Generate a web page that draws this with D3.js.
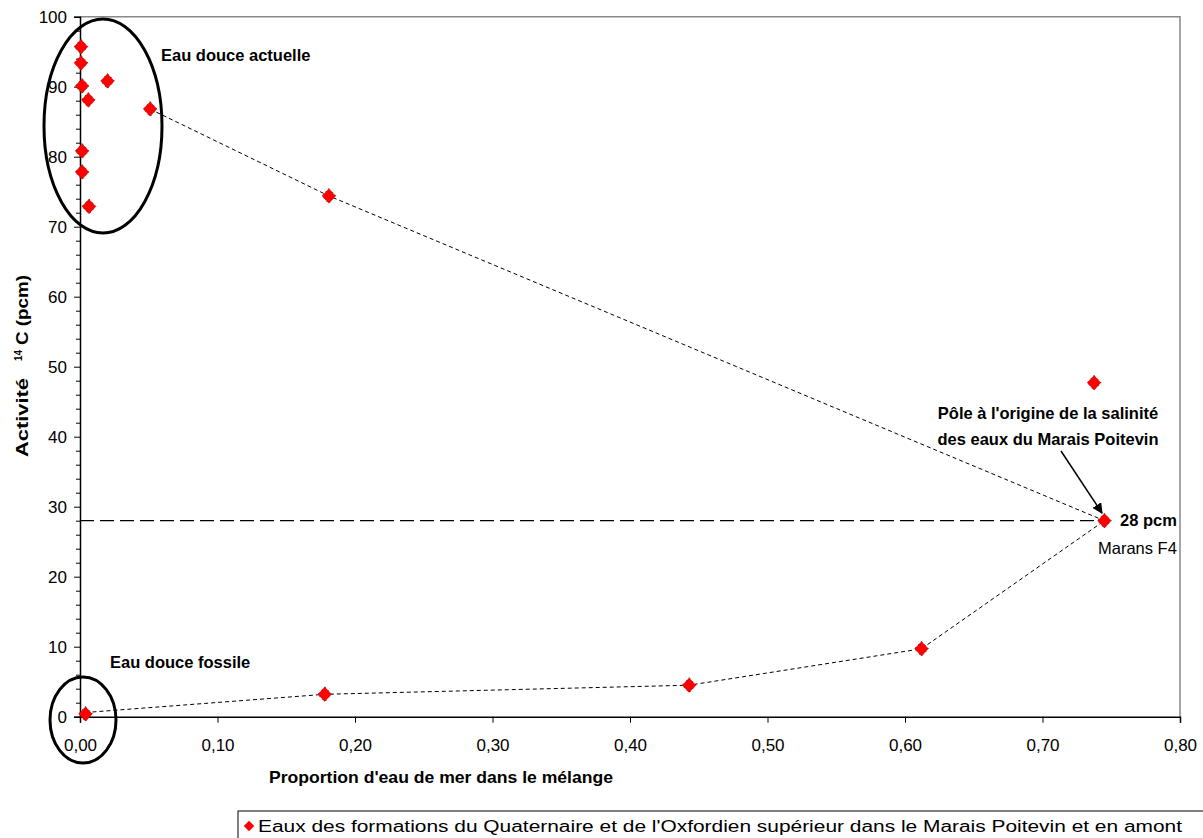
<!DOCTYPE html>
<html><head><meta charset="utf-8">
<script src="https://cdn.jsdelivr.net/npm/d3@7/dist/d3.min.js"></script>
<style>body{margin:0;background:#fff}svg{display:block;font-family:"Liberation Sans",Arial,sans-serif}</style>
</head><body><svg id="c" width="1203" height="838"></svg>
<script>
const xVals = [0.0007,0.0007,0.0015,0.006,0.020,0.051,0.0015,0.0015,0.0065,0.181,0.745,0.7375,0.612,0.443,0.178,0.004];
const yVals = [95.7,93.4,90.1,88.1,90.8,86.8,80.8,77.8,72.9,74.4,28.0,47.7,9.7,4.5,3.2,0.4];
const upperMixX = [0.051,0.181,0.745];
const upperMixY = [86.8,74.4,28.0];
const lowerMixX = [0.004,0.178,0.443,0.612,0.745];
const lowerMixY = [0.6,3.2,4.5,9.7,28.0];
const xTicks = [0,0.1,0.2,0.3,0.4,0.5,0.6,0.7,0.8];
const yTicks = [0,10,20,30,40,50,60,70,80,90,100];
const poleValue = 28;

const FF = "Liberation Sans, Arial, sans-serif";
const svg = d3.select("#c");
const x = d3.scaleLinear().domain([0,0.8]).range([80,1180]);
const y = d3.scaleLinear().domain([0,100]).range([716.7,16.7]);

// plot border (gray top/right)
svg.append("path").attr("d",`M${x(0)},${y(100)}H${x(0.8)}V${y(0)}`).attr("fill","none").attr("stroke","#888").attr("stroke-width",1.5);

// axes
const fmt = d => d3.format(".2f")(d).replace(".",",");
const xAxis = svg.append("g").attr("transform",`translate(0,${y(0)})`)
  .call(d3.axisBottom(x).tickValues(xTicks).tickFormat(fmt).tickSize(6).tickPadding(16));
const yAxis = svg.append("g").attr("transform",`translate(${x(0)},0)`)
  .call(d3.axisLeft(y).tickValues(yTicks).tickSize(6).tickPadding(7));
svg.append("g").attr("transform",`translate(${x(0)},0)`)
  .call(d3.axisLeft(y).tickValues(d3.range(0,101,2).filter(v=>v%10)).tickSize(4).tickFormat(""))
  .call(g=>g.select(".domain").remove());
[xAxis,yAxis].forEach(g=>{
  g.selectAll("text").attr("font-size",17).attr("fill","#000").attr("font-family",FF);
  g.select(".domain").attr("stroke","#000").attr("stroke-width",1.5);
});
svg.selectAll(".tick line").attr("stroke","#000");

// pole horizontal line
svg.append("line").attr("x1",x(0)).attr("x2",x(0.742)).attr("y1",y(poleValue)).attr("y2",y(poleValue))
  .attr("stroke","#000").attr("stroke-width",1.3).attr("stroke-dasharray","14,6");

// mixing lines
const line = d3.line().x(d=>x(d[0])).y(d=>y(d[1]));
svg.append("path").attr("d",line(upperMixX.map((v,i)=>[v,upperMixY[i]]))).attr("fill","none")
  .attr("stroke","#000").attr("stroke-width",1).attr("stroke-dasharray","4,3");
svg.append("path").attr("d",line(lowerMixX.map((v,i)=>[v,lowerMixY[i]]))).attr("fill","none")
  .attr("stroke","#000").attr("stroke-width",1).attr("stroke-dasharray","4,3");

// ellipses
svg.append("ellipse").attr("cx",103).attr("cy",126).attr("rx",59).attr("ry",107)
  .attr("fill","none").attr("stroke","#000").attr("stroke-width",3);
svg.append("ellipse").attr("cx",83).attr("cy",720).attr("rx",33).attr("ry",43)
  .attr("fill","none").attr("stroke","#000").attr("stroke-width",3);

// points (diamond, 14 wide x 15 tall)
const diamond = {draw(ctx){ctx.moveTo(0,-7.5);ctx.lineTo(7,0);ctx.lineTo(0,7.5);ctx.lineTo(-7,0);ctx.closePath();}};
svg.append("g").selectAll("path").data(xVals.map((v,i)=>[v,yVals[i]])).join("path")
  .attr("d",d3.symbol().type(diamond)).attr("transform",d=>`translate(${x(d[0])},${y(d[1])})`)
  .attr("fill","#ff0000").attr("stroke","#333").attr("stroke-width",0.8).attr("stroke-dasharray","1.5,3");

// arrow
svg.append("defs").append("marker").attr("id","ah").attr("viewBox","0 0 10 10").attr("refX",9).attr("refY",5)
  .attr("markerWidth",7).attr("markerHeight",7).attr("orient","auto")
  .append("path").attr("d","M0,0L10,5L0,10z").attr("fill","#000");
svg.append("line").attr("x1",1061).attr("y1",451).attr("x2",1102).attr("y2",513)
  .attr("stroke","#000").attr("stroke-width",1.5).attr("marker-end","url(#ah)");

// annotations
const bold = (t,xx,yy,anchor)=>svg.append("text").text(t).attr("x",xx).attr("y",yy)
  .attr("font-size",16.5).attr("font-weight","bold").attr("text-anchor",anchor||"start");
bold("Eau douce actuelle",161,61);
bold("Eau douce fossile",110,668);
bold("Pôle à l'origine de la salinité",1048,419,"middle");
bold("des eaux du Marais Poitevin",1048,445,"middle");
bold("28 pcm",1120,526);
svg.append("text").text("Marans F4").attr("x",1098).attr("y",554).attr("font-size",16.5);

// axis titles
const yt = svg.append("g").attr("transform","translate(28,0) rotate(-90)").attr("font-weight","bold");
yt.append("text").text("Activité").attr("x",-457).attr("y",0).attr("font-size",17)
  .attr("textLength",79).attr("lengthAdjust","spacingAndGlyphs");
yt.append("text").text("14").attr("x",-361).attr("y",-6).attr("font-size",10);
yt.append("text").text("C (pcm)").attr("x",-345).attr("y",0).attr("font-size",17)
  .attr("textLength",70).attr("lengthAdjust","spacingAndGlyphs");
bold("Proportion d'eau de mer dans le mélange",441,783,"middle")
  .attr("textLength",344).attr("lengthAdjust","spacingAndGlyphs");

// legend
svg.append("rect").attr("x",238).attr("y",811).attr("width",1000).attr("height",40)
  .attr("fill","#fff").attr("stroke","#000").attr("stroke-width",1);
svg.append("path").attr("d",d3.symbol().type(d3.symbolSquare).size(55))
  .attr("transform","translate(249,826) rotate(45)").attr("fill","#ff0000");
svg.append("text").text("Eaux des formations du Quaternaire et de l'Oxfordien supérieur dans le Marais Poitevin et en amont")
  .attr("x",258).attr("y",832).attr("font-size",16)
  .attr("textLength",924).attr("lengthAdjust","spacingAndGlyphs");
</script></body></html>
